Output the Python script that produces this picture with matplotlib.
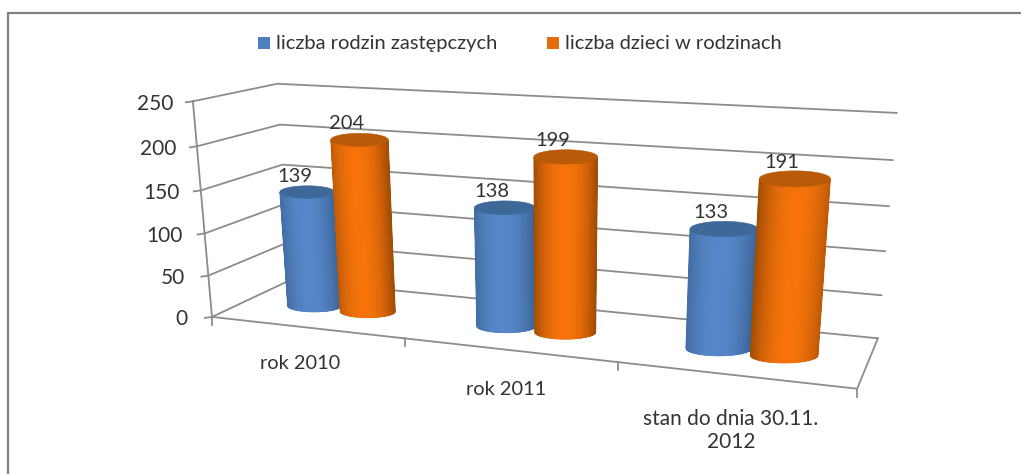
import numpy as np
import matplotlib
matplotlib.use("Agg")
import matplotlib.pyplot as plt
from matplotlib.patches import Polygon, Rectangle
from matplotlib.colors import to_rgb

# ---------- data ----------
categories = ["rok 2010", "rok 2011", "stan do dnia 30.11.\n2012"]
series_names = ["liczba rodzin zastępczych", "liczba dzieci w rodzinach"]
rodziny = [139, 138, 133]
dzieci = [204, 199, 191]
value_ticks = [0, 50, 100, 150, 200, 250]
VMAX = 250

W, H = 1021, 474
plt.rcParams["font.family"] = ["Lato", "DejaVu Sans"]
fig = plt.figure(figsize=(W / 100, H / 100), dpi=100)
ax = fig.add_axes([0, 0, 1, 1])
ax.set_xlim(0, W)
ax.set_ylim(H, 0)
ax.axis("off")

# ---------- perspective camera fitted to the plot box corners ----------
calib = [
    ((0, 0, 0), (212, 317)), ((0, 0, 1), (193, 101)),
    ((0, 1, 1), (277, 84)),
    ((1, 1, 0), (878, 338)), ((1, 1, 1), (897, 113)),
    ((1, 0, 0), (857, 389)),
]
A = []
for (X, Y, Z), (u, v) in calib:
    A.append([X, Y, Z, 1, 0, 0, 0, 0, -u * X, -u * Y, -u * Z, -u])
    A.append([0, 0, 0, 0, X, Y, Z, 1, -v * X, -v * Y, -v * Z, -v])
P = np.linalg.svd(np.array(A, float))[2][-1].reshape(3, 4)


def proj(x, d, val):
    x, d, val = np.broadcast_arrays(np.asarray(x, float), np.asarray(d, float), np.asarray(val, float))
    q = P @ np.stack([x, d, val / VMAX, np.ones_like(x)])
    return q[0] / q[2], q[1] / q[2]


GRID = "#8c8c8c"
LW = 1.3
# walls and floor
for v in value_ticks:
    xs, ys = proj([0, 0, 1], [0, 1, 1], [v, v, v])
    ax.plot(xs, ys, color=GRID, lw=LW, zorder=1, solid_capstyle="round")
    tx, ty = proj(0, 0, v)
    ax.plot([tx - 7, tx], [ty + 1, ty], color=GRID, lw=LW, zorder=1)
    ax.text(tx - 20 - 4 * (1 - v / VMAX), ty + 2.5, str(v), ha="right", va="center", fontsize=15, color="#333333")
xs, ys = proj([0, 0], [0, 0], [0, VMAX])
ax.plot(xs, ys, color=GRID, lw=LW, zorder=1)
xs, ys = proj([0, 1, 1], [0, 0, 1], [0, 0, 0])
ax.plot(xs, ys, color=GRID, lw=LW, zorder=1)
for i in range(len(categories) + 1):
    tx, ty = proj(i / len(categories), 0, 0)
    ax.plot([tx, tx], [ty, ty + 8], color=GRID, lw=LW, zorder=1)

# ---------- cylinders ----------
RX = 0.049
OFFSET = 0.048
SHIFT = 0.001
DEPTH = 0.46
RY = 0.225  # ellipse height relative to its half width
BLUE = ("#3a6395", "#5686c8", "#3d6897")
ORANGE = ("#a04c05", "#f5730a", "#b85a08")
LABEL_DX = [-6, -3, -4]
LABEL_DY = [36.5, 39.5, 34]


def cylinder(cx, value, cols, z, hi):
    dark, light = np.array(to_rgb(cols[0])), np.array(to_rgb(cols[1]))
    t = np.linspace(-1, 1, 121)
    bx0, by0 = proj(cx, DEPTH, 0)
    tx0, ty0 = proj(cx, DEPTH, value)
    bw = (proj(cx + RX, DEPTH, 0)[0] - proj(cx - RX, DEPTH, 0)[0]) / 2
    tw = (proj(cx + RX, DEPTH, value)[0] - proj(cx - RX, DEPTH, value)[0]) / 2
    arc = np.sqrt(1 - t ** 2)
    bx, by = bx0 + t * bw, by0 + RY * bw * arc
    ux, uy = tx0 + t * tw, ty0 + RY * tw * arc
    for i in range(len(t) - 1):
        s = (t[i] + t[i + 1]) / 2
        span = 1 + abs(hi)
        f = np.clip(1 - (abs(s - hi) / span) ** 2.2, 0, 1)
        c = dark + (light - dark) * f
        ax.add_patch(Polygon([(bx[i], by[i]), (bx[i + 1], by[i + 1]), (ux[i + 1], uy[i + 1]), (ux[i], uy[i])],
                             closed=True, fc=c, ec=c, lw=0.5, zorder=z))
    top = np.column_stack([np.r_[ux, ux[::-1]], np.r_[uy, 2 * ty0 - uy[::-1]]])
    ax.add_patch(Polygon(top, closed=True, fc=cols[2], ec=cols[2], lw=0.4, zorder=z + 0.5))


for k, (a, b) in enumerate(zip(rodziny, dzieci)):
    c = (k + 0.5) / len(categories) + SHIFT
    xb, xo = c - OFFSET, c + OFFSET
    cylinder(xb, a, BLUE, 3 + k * 2, -0.08)
    cylinder(xo, b, ORANGE, 4 + k * 2, 0.3 * (xo - 0.55))
    for x0, val in ((xb, a), (xo, b)):
        tx, ty = proj(x0, DEPTH, val)
        ax.text(tx - 13, ty - 16, str(val), ha="center", va="center", fontsize=14.5, color="#333333", zorder=20)
    tx, ty = proj(c, 0, 0)
    ax.text(tx + LABEL_DX[k], ty + LABEL_DY[k], categories[k], ha="center", va="center" if k < 2 else "top",
            fontsize=14.4 if k < 2 else 15, color="#333333", linespacing=1.2, zorder=20)

# ---------- legend ----------
for sx, tx, name, col in ((258, 276, series_names[0], "#4f81bd"), (547, 565, series_names[1], "#e46c0a")):
    ax.add_patch(Rectangle((sx, 37), 12, 12, fc=col, ec="none"))
    ax.text(tx, 43, name, ha="left", va="center", fontsize=14.5, color="#333333")

# ---------- outer frame (open to the right and bottom) ----------
ax.plot([8, 8, W], [H, 13, 13], color="#808080", lw=1.6, solid_joinstyle="miter")

fig.savefig("out.png", dpi=100, facecolor="white")
